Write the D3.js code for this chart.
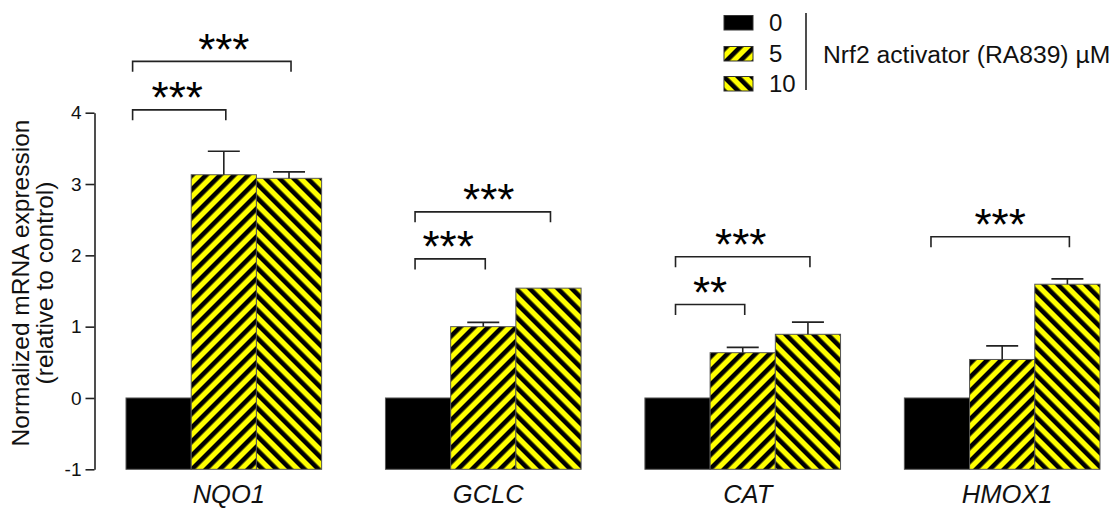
<!DOCTYPE html>
<html><head><meta charset="utf-8">
<script src="https://cdn.jsdelivr.net/npm/d3@7"></script>
<style>
body{margin:0;background:#fff}
svg{display:block;font-family:"Liberation Sans",Arial,Helvetica,sans-serif}
</style>
</head><body>
<svg id="chart" width="1118" height="508"></svg>
<script>
// Expression data (fold change relative to control, baseline at 0)
const genes = ["NQO1", "GCLC", "CAT", "HMOX1"];
const doses = ["0", "5", "10"];
const dose0 = [0, 0, 0, 0];
const dose5 = [3.13, 1.00, 0.635, 0.54];
const dose10 = [3.08, 1.54, 0.893, 1.595];
const err0 = [0, 0, 0, 0];
const err5 = [0.33, 0.06, 0.075, 0.19];
const err10 = [0.09, 0.0, 0.17, 0.075];
const yTicks = [-1, 0, 1, 2, 3, 4];

// Significance comparisons vs. 0 µM
const sigGene = ["NQO1", "NQO1", "GCLC", "GCLC", "CAT", "CAT", "HMOX1"];
const sigTo = ["5", "10", "5", "10", "5", "10", "10"];
const sigLabel = ["***", "***", "***", "***", "**", "***", "***"];
const sigLevel = [4.04, 4.72, 1.95, 2.61, 1.31, 1.98, 2.26];

const legendTitle = "Nrf2 activator (RA839) µM";
const yTitle = ["Normalized mRNA expression", "(relative to control)"];

const values = [dose0, dose5, dose10];
const errors = [err0, err5, err10];

const svg = d3.select("#chart");

// Hatch patterns: "/" for 5 µM, "\" for 10 µM
const defs = svg.append("defs");
function hatch(id, angle) {
  const p = defs.append("pattern")
    .attr("id", id)
    .attr("patternUnits", "userSpaceOnUse")
    .attr("width", 9.9).attr("height", 9.9)
    .attr("patternTransform", `rotate(${angle})`);
  p.append("rect").attr("width", 9.9).attr("height", 9.9).attr("fill", "#ffff00");
  p.append("rect").attr("x", 0).attr("width", 4.6).attr("height", 9.9).attr("fill", "#000");
}
hatch("hatch5", 45);
hatch("hatch10", -45);
const fills = { "0": "#000", "5": "url(#hatch5)", "10": "url(#hatch10)" };

const x = d3.scaleBand().domain(genes).range([126, 1100]).paddingInner(0.246).paddingOuter(0);
const xd = d3.scaleBand().domain(doses).range([0, x.bandwidth()]).padding(0);
const y = d3.scaleLinear().domain([-1, 4]).range([469.3, 112.7]);

// Y axis
const axisX = 94.5;
const yAxis = svg.append("g")
  .attr("transform", `translate(${axisX},0)`)
  .call(d3.axisLeft(y).tickValues(yTicks).tickFormat(d => String(d))
    .tickSize(9).tickPadding(4).tickSizeOuter(0));
yAxis.select(".domain").attr("stroke", "#222").attr("stroke-width", 1.6);
yAxis.selectAll(".tick line").attr("stroke", "#222").attr("stroke-width", 1.6);
yAxis.selectAll(".tick text").attr("font-size", 19).attr("fill", "#111")
  .attr("font-family", "Liberation Sans, Arial, sans-serif");

// Y title (two lines, rotated)
const yt = svg.append("text")
  .attr("transform", "translate(0,283) rotate(-90)")
  .attr("text-anchor", "middle")
  .attr("font-size", 24.5).attr("fill", "#111");
yt.append("tspan").attr("x", 0).attr("y", 29).text(yTitle[0]);
yt.append("tspan").attr("x", 0).attr("y", 53).text(yTitle[1]);

// Bars (drawn up from the bottom of the axis)
const rows = [];
genes.forEach((g, gi) => doses.forEach((d, di) => {
  rows.push({ gene: g, dose: d, v: values[di][gi], e: errors[di][gi] });
}));

svg.append("g").selectAll("rect").data(rows).join("rect")
  .attr("x", r => x(r.gene) + xd(r.dose))
  .attr("width", xd.bandwidth())
  .attr("y", r => y(r.v))
  .attr("height", r => y(-1) - y(r.v))
  .attr("fill", r => fills[r.dose])
  .attr("stroke", "#555").attr("stroke-width", 1);

// Error bars (upper only)
const eg = svg.append("g").attr("stroke", "#222").attr("stroke-width", 1.6);
rows.filter(r => r.e > 0).forEach(r => {
  const cx = x(r.gene) + xd(r.dose) + xd.bandwidth() / 2;
  eg.append("line").attr("x1", cx).attr("x2", cx).attr("y1", y(r.v)).attr("y2", y(r.v + r.e));
  eg.append("line").attr("x1", cx - 16).attr("x2", cx + 16).attr("y1", y(r.v + r.e)).attr("y2", y(r.v + r.e));
});

// Gene labels
svg.append("g").selectAll("text").data(genes).join("text")
  .attr("x", g => x(g) + x.bandwidth() / 2 + 5)
  .attr("y", 503)
  .attr("text-anchor", "middle")
  .attr("font-size", 25.5).attr("font-style", "italic").attr("fill", "#111")
  .text(g => g);

// Significance brackets
const leftNudge = { "NQO1": -26, "GCLC": -3, "CAT": -2, "HMOX1": -6 };
const starShift = [-2, 12, -2, 6, 0, -2, 0];
const sg = svg.append("g");
sigGene.forEach((g, i) => {
  const x1 = x(g) + xd("0") + xd.bandwidth() / 2 + leftNudge[g];
  const x2 = x(g) + xd(sigTo[i]) + xd.bandwidth() / 2 + 2;
  const by = y(sigLevel[i]);
  sg.append("path")
    .attr("d", `M${x1},${by + 10.5}V${by}H${x2}V${by + 10.5}`)
    .attr("fill", "none").attr("stroke", "#222").attr("stroke-width", 1.6);
  sg.append("text")
    .attr("x", (x1 + x2) / 2 + starShift[i]).attr("y", by + 3.5)
    .attr("text-anchor", "middle")
    .attr("font-size", 44).attr("fill", "#000")
    .text(sigLabel[i]);
});

// Legend
const lg = svg.append("g");
const legY = [15.5, 46.5, 76.5];
doses.forEach((d, i) => {
  lg.append("rect").attr("x", 724).attr("y", legY[i]).attr("width", 29).attr("height", 14.5)
    .attr("fill", fills[d]).attr("stroke", "#333").attr("stroke-width", 1);
  lg.append("text").attr("x", 769).attr("y", legY[i] + 15.5).attr("font-size", 24).attr("fill", "#111").text(d);
});
lg.append("line").attr("x1", 806).attr("x2", 806).attr("y1", 13).attr("y2", 90)
  .attr("stroke", "#222").attr("stroke-width", 1.6);
lg.append("text").attr("x", 823).attr("y", 63).attr("font-size", 24.7).attr("fill", "#111").text(legendTitle);
</script>
</body></html>
